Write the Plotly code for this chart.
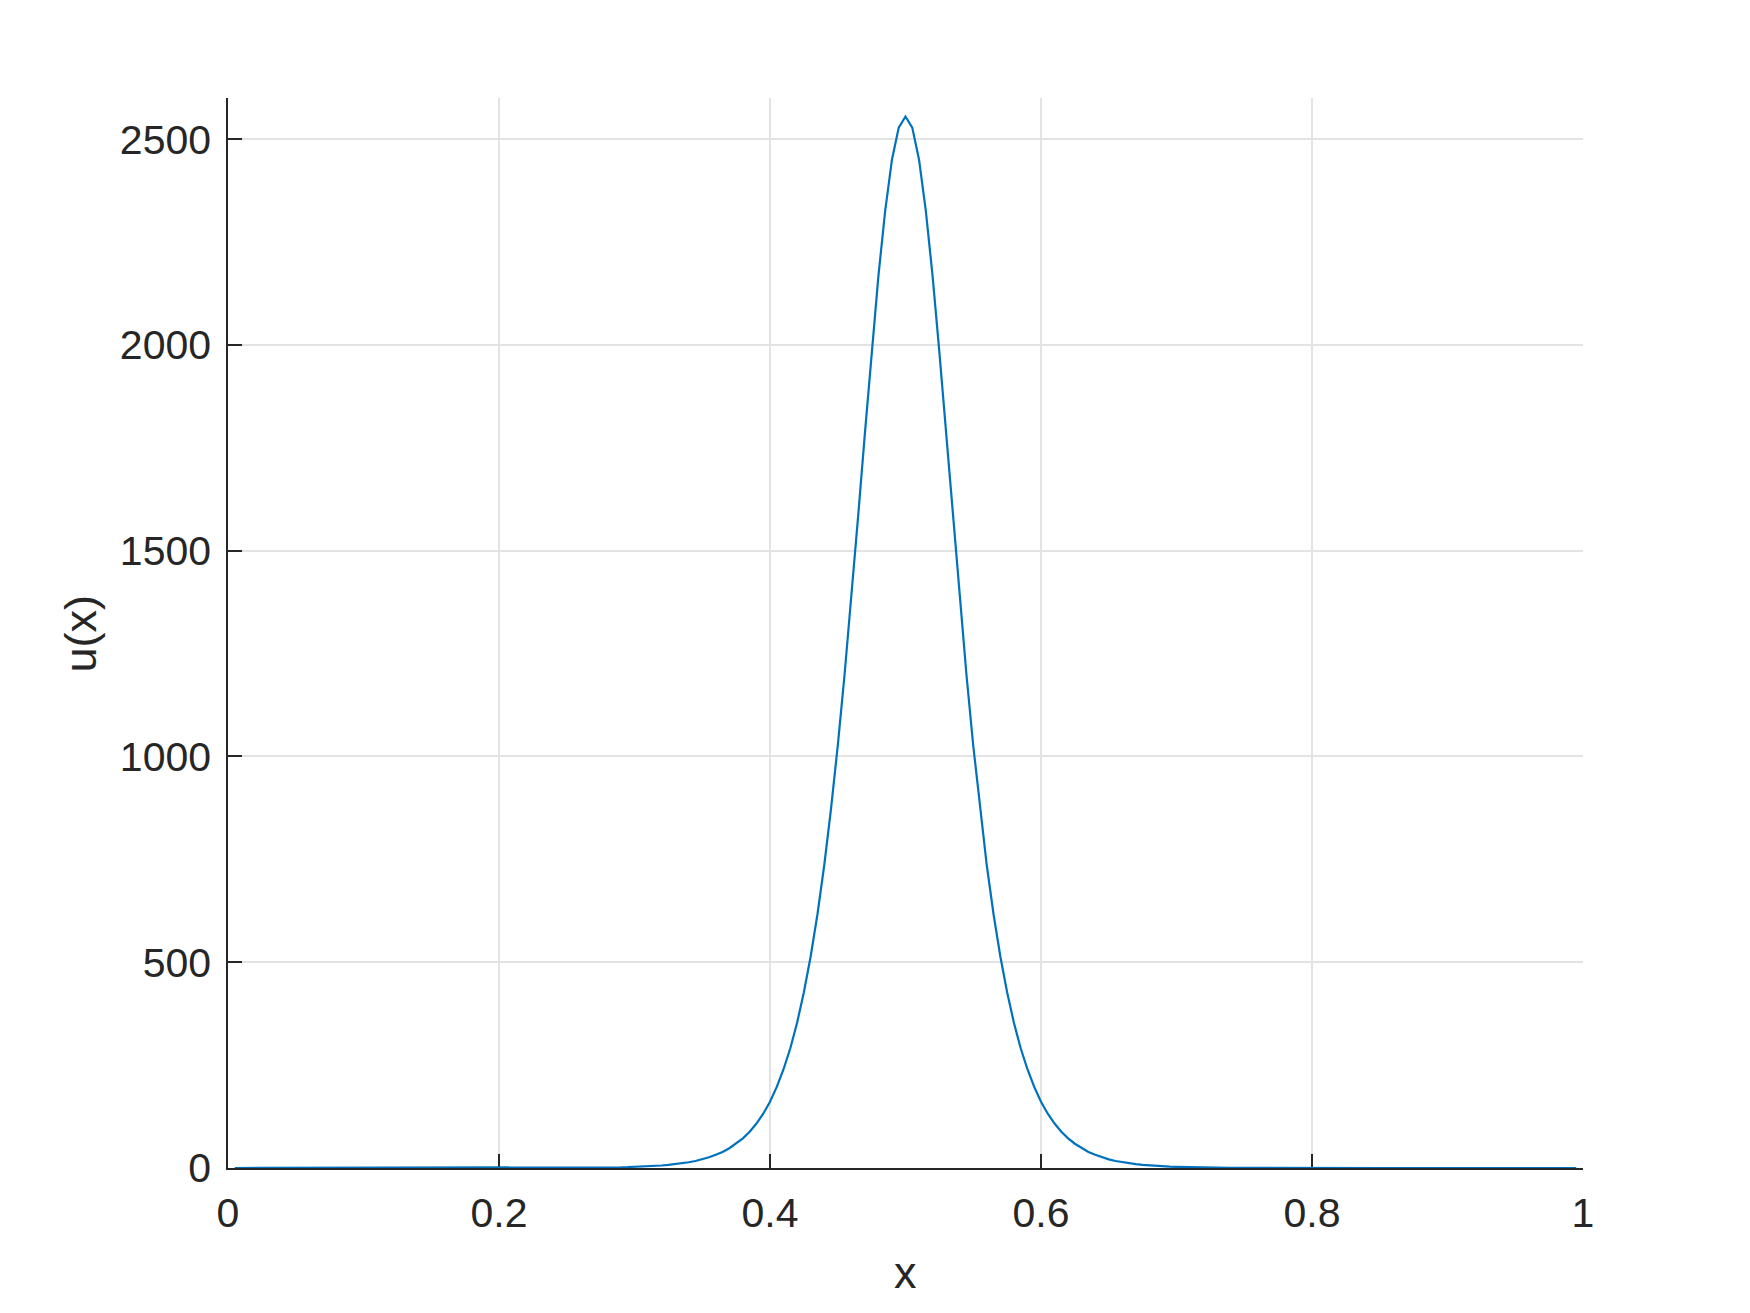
import plotly.graph_objects as go

# x grid: interior points 0.005 .. 0.995 (step 0.005)
x_vals = [round(0.005 * i, 3) for i in range(1, 200)]

# half profile, from the peak (x=0.5) outward
half_profile = [2555, 2528, 2450, 2326, 2167, 1982, 1784, 1582, 1385, 1198,
                1026, 872, 735, 616, 514, 427, 353, 291, 240, 197,
                161, 132, 108, 88, 72, 59, 48, 39, 32, 26,
                21, 17, 14, 11, 9.2, 7.5, 6.1, 5.0, 4.0, 3.3,
                2.7, 2.2, 1.8, 1.5, 1.2, 1.0, 0.8, 0.6, 0.5, 0.4,
                0.3, 0.25, 0.2, 0.15, 0.1, 0.1, 0.05, 0.05, 0.05, 0,
                0, 0, 0, 0, 0, 0, 0, 0, 0, 0,
                0, 0, 0, 0, 0, 0, 0, 0, 0, 0,
                0, 0, 0, 0, 0, 0, 0, 0, 0, 0,
                0, 0, 0, 0, 0, 0, 0, 0, 0, 0]
u_vals = half_profile[99:0:-1] + half_profile[0:100]

x_ticks = [0, 0.2, 0.4, 0.6, 0.8, 1]
x_tick_labels = ["0", "0.2", "0.4", "0.6", "0.8", "1"]
y_ticks = [0, 500, 1000, 1500, 2000, 2500]
y_tick_labels = ["0", "500", "1000", "1500", "2000", "2500"]

FONT = "Arial, Liberation Sans, Helvetica, sans-serif"
AX = "#262626"
GRID = "#e3e3e3"

fig = go.Figure()
fig.add_trace(go.Scatter(x=x_vals, y=u_vals, mode="lines",
                         line=dict(color="#0072BD", width=2.2),
                         showlegend=False, hoverinfo="skip"))

fig.update_layout(
    width=1750, height=1313,
    margin=dict(l=228, r=167, t=98, b=145),
    paper_bgcolor="white", plot_bgcolor="white",
    font=dict(family=FONT, color=AX),
    xaxis=dict(range=[0, 1], tickvals=x_ticks, ticktext=x_tick_labels,
               showgrid=True, gridcolor=GRID, gridwidth=1.5,
               zeroline=False, showline=True, linecolor=AX, linewidth=1.5,
               ticks="inside", ticklen=14, tickwidth=1.5, tickcolor=AX,
               tickfont=dict(size=41, color=AX, family=FONT),
               ticklabelstandoff=8, layer="below traces"),
    yaxis=dict(range=[0, 2600], tickvals=y_ticks, ticktext=y_tick_labels,
               showgrid=True, gridcolor=GRID, gridwidth=1.5,
               zeroline=False, showline=True, linecolor=AX, linewidth=1.5,
               ticks="inside", ticklen=14, tickwidth=1.5, tickcolor=AX,
               tickfont=dict(size=41, color=AX, family=FONT),
               ticklabelstandoff=7, layer="below traces"),
    annotations=[
        dict(text="x", xref="paper", yref="paper", x=0.5, y=-0.098,
             xanchor="center", yanchor="middle", showarrow=False,
             font=dict(size=45, color=AX, family=FONT)),
        dict(text="u(x)", xref="paper", yref="paper",
             x=-0.1085, y=0.4995, xanchor="center", yanchor="middle",
             textangle=-90, showarrow=False,
             font=dict(size=45, color=AX, family=FONT)),
    ],
)

fig.write_html("out.html", config={"displayModeBar": False},
               post_script="document.body.style.margin='0';document.body.style.overflow='hidden';")
